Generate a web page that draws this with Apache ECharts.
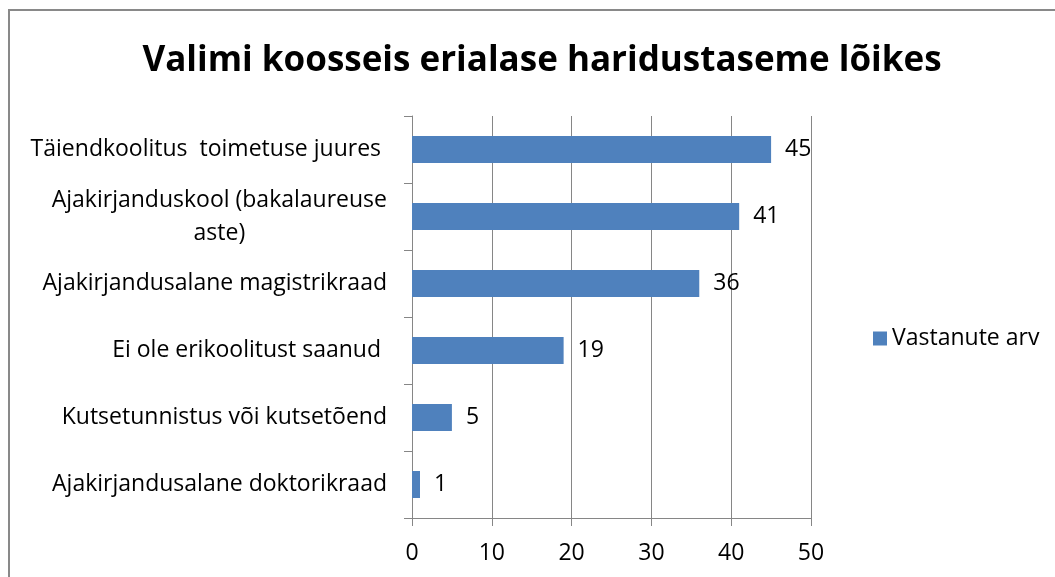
<!DOCTYPE html>
<html>
<head>
<meta charset="utf-8">
<script src="https://cdn.jsdelivr.net/npm/echarts@6/dist/echarts.min.js"></script>
<style>
html,body{margin:0;padding:0;background:#fff;}
#chart{width:1055px;height:577px;}
</style>
</head>
<body>
<div id="chart"></div>
<script>
var titleText = 'Valimi koosseis erialase haridustaseme lõikes';
var seriesName = 'Vastanute arv';
var categories = [
  'Täiendkoolitus  toimetuse juures ',
  'Ajakirjanduskool (bakalaureuse aste)',
  'Ajakirjandusalane magistrikraad',
  'Ei ole erikoolitust saanud ',
  'Kutsetunnistus või kutsetõend',
  'Ajakirjandusalane doktorikraad'
];
var values = [45, 41, 36, 19, 5, 1];
var xTicks = [0, 10, 20, 30, 40, 50];

var FONT = 'Open Sans';
var FS = 23;
var chart = echarts.init(document.getElementById('chart'), null, {renderer: 'canvas'});
chart.setOption({
  backgroundColor: '#fff',
  animation: false,
  graphic: [{
    type: 'rect',
    shape: {x: 9, y: 10, width: 1200, height: 700},
    style: {fill: 'none', stroke: '#898989', lineWidth: 2},
    z: -10
  }],
  title: {
    text: titleText,
    left: 537,
    textAlign: 'center',
    top: 39,
    textStyle: {fontFamily: FONT, fontWeight: 'bold', fontSize: 35, color: '#000'}
  },
  legend: {
    data: [seriesName],
    left: 868,
    top: 322,
    itemWidth: 14,
    itemHeight: 14,
    icon: 'rect',
    textStyle: {fontFamily: FONT, fontSize: FS, color: '#000'}
  },
  grid: {left: 412, right: 244, top: 116, bottom: 59, containLabel: false},
  xAxis: {
    type: 'value',
    min: xTicks[0],
    max: xTicks[xTicks.length - 1],
    interval: 10,
    axisLine: {show: true, lineStyle: {color: '#868686', width: 1}},
    axisTick: {show: true, length: 8, lineStyle: {color: '#868686'}},
    splitLine: {show: true, lineStyle: {color: '#868686', width: 1}},
    axisLabel: {fontFamily: FONT, fontSize: FS, color: '#000', margin: 24}
  },
  yAxis: {
    type: 'category',
    inverse: true,
    data: categories,
    axisLine: {show: true, lineStyle: {color: '#868686', width: 1}},
    axisTick: {show: true, length: 8, lineStyle: {color: '#868686'}},
    axisLabel: {
      fontFamily: FONT, fontSize: FS, color: '#000', margin: 25,
      formatter: function (v) {
        if (v.indexOf('(bakalaureuse') >= 0) {
          var i = v.indexOf(' aste)');
          return '{a|' + v.slice(0, i) + '}\n{b|' + v.slice(i + 1) + '}';
        }
        return v;
      },
      rich: {
        a: {fontFamily: FONT, fontSize: FS, color: '#000', lineHeight: 33},
        b: {fontFamily: FONT, fontSize: FS, color: '#000', lineHeight: 33, width: 333, align: 'center'}
      }
    }
  },
  series: [{
    name: seriesName,
    type: 'bar',
    data: values,
    barWidth: 27,
    itemStyle: {color: '#4F81BD'},
    label: {
      show: true,
      position: 'right',
      distance: 14,
      fontFamily: FONT, fontSize: FS, color: '#000'
    }
  }]
});
</script>
</body>
</html>
